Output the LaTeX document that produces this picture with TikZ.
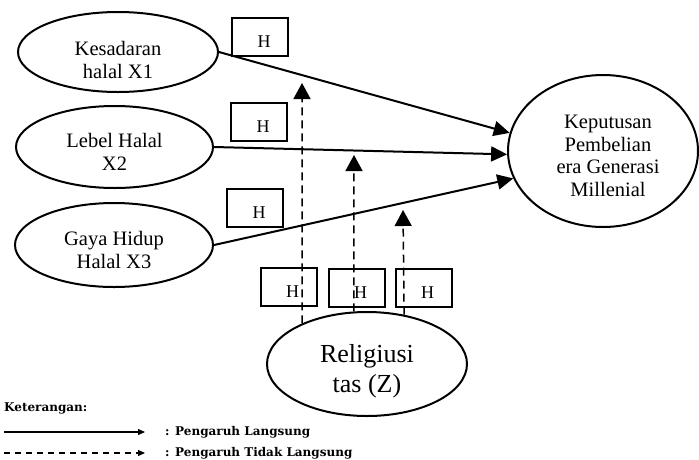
\documentclass[tikz,border=0pt]{standalone}
\usepackage{fontspec}
\setmainfont{Liberation Serif}
\newfontfamily\legfont{DejaVu Serif}
\usetikzlibrary{shapes.geometric,arrows.meta}
\begin{document}
\begin{tikzpicture}[x=1pt,y=-1pt,
  var/.style={ellipse, draw, line width=2pt, inner sep=0pt},
  vtext/.style={align=center, font=\fontsize{20.5}{22.5}\selectfont},
  ztext/.style={align=center, font=\fontsize{26}{30}\selectfont},
  hbox/.style={draw, line width=2pt, minimum width=56pt, minimum height=38pt, inner sep=0pt},
  htext/.style={font=\fontsize{18}{20}\selectfont, xshift=4pt, yshift=-5pt},
  direct/.style={line width=2pt, -{Triangle[length=16pt,width=15pt]}},
  indirect/.style={line width=1.5pt, dash pattern=on 8pt off 5pt, -{Triangle[length=16pt,width=17pt]}},
  legtext/.style={font=\legfont\bfseries\fontsize{12}{14}\selectfont, inner sep=0pt},
  legdirect/.style={line width=1.2pt, -{Triangle[length=7pt,width=6pt]}},
  legindirect/.style={line width=1.2pt, dash pattern=on 6pt off 5pt, -{Triangle[length=7pt,width=6pt]}}
]
\useasboundingbox (0,0) rectangle (699,459);

% variables
\node[var, minimum width=200pt, minimum height=80pt,
  label={[vtext, yshift=-8pt]center:Kesadaran\\halal X1}] (x1) at (118,52) {};
\node[var, minimum width=197pt, minimum height=82pt,
  label={[vtext, yshift=-5pt]center:Lebel Halal\\X2}] (x2) at (114.5,147) {};
\node[var, minimum width=198pt, minimum height=84pt,
  label={[vtext, yshift=-5pt]center:Gaya Hidup\\Halal X3}] (x3) at (114,245) {};
\node[var, minimum width=190pt, minimum height=152pt,
  label={[vtext, xshift=5pt, yshift=-5pt]center:Keputusan\\Pembelian\\era Generasi\\Millenial}] (y) at (603,151) {};
\node[var, minimum width=200pt, minimum height=104pt,
  label={[ztext, yshift=-7pt]center:Religiusi\\tas (Z)}] (z) at (367,364) {};

% H boxes
\node[hbox, label={[htext]center:H}] (h1) at (260,37) {};
\node[hbox, label={[htext]center:H}] (h2) at (259,121.5) {};
\node[hbox, label={[htext]center:H}] (h3) at (255,207.5) {};
\node[hbox, label={[htext]center:H}] (h4) at (288.5,287) {};
\node[hbox, label={[htext]center:H}] (h5) at (356.5,287.5) {};
\node[hbox, label={[htext]center:H}] (h6) at (423.5,288) {};

% direct effects
\draw[direct] (x1.east) -- (y.169);
\draw[direct] (x2.east) -- (y.182);
\draw[direct] (x3.east) -- (y.197);

% indirect (moderation) effects
\coordinate (t1) at (302,83);
\coordinate (t2) at (354,155);
\coordinate (t3) at (403,210);
\draw[indirect] (z.148.7) -- (t1);
\draw[indirect] (z.104.1) -- (t2);
\draw[indirect] (z.53.4) -- (t3);

% legend
\node[legtext, anchor=west] (ket) at (4,408) {Keterangan:};
\coordinate (l1a) at (4,432);
\coordinate (l1b) at (145,432);
\draw[legdirect] (l1a) -- (l1b);
\node[legtext, anchor=west] (leg1) at (165,432) {: Pengaruh Langsung};
\coordinate (l2a) at (4,453);
\coordinate (l2b) at (145,453);
\draw[legindirect] (l2a) -- (l2b);
\node[legtext, anchor=west] (leg2) at (165,453) {: Pengaruh Tidak Langsung};
\end{tikzpicture}
\end{document}
